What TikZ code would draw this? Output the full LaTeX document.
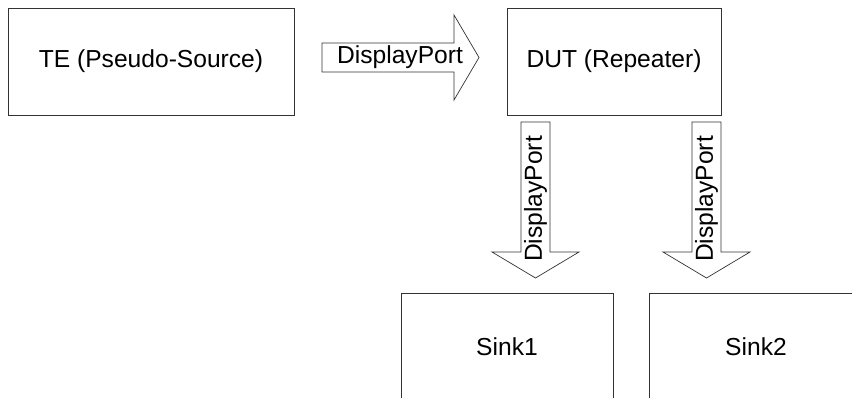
\documentclass[tikz,border=0pt]{standalone}
\usepackage{fontspec}
\setmainfont{Liberation Sans}
\usetikzlibrary{positioning}

\begin{document}
\begin{tikzpicture}[
  x=1pt, y=-1pt,
  font=\fontsize{24.6}{28}\selectfont,
  box/.style={draw=black!80, line width=0.7pt, align=center, minimum height=107pt},
  fatarrow/.style={draw=black!80, line width=0.7pt, fill=white, line join=miter},
  arrowtext/.style={inner sep=0pt}
]

\clip (0,0) rectangle (852,398);

\node[box, minimum width=286pt] (te)  at (151,61.5)  {TE (Pseudo-Source)};
\node[box, minimum width=214pt] (dut) at (614,61.5)  {DUT (Repeater)};

% sinks below the repeater
\node[box, minimum width=212pt] (sink1) at (507,346.5) {Sink1};
\node[box, minimum width=214pt] (sink2) at (756,346.5) {Sink2};

% TE -> DUT
\draw[fatarrow] (322,43) -- (454,43) -- (454,15) -- (479,57.5)
  -- (454,100) -- (454,72) -- (322,72) -- cycle;
\node[arrowtext] (dp0) at (400,57.5) {DisplayPort};

% DUT -> Sink1, DUT -> Sink2
\draw[fatarrow] (521,122) -- (550,122) -- (550,252) -- (579,252)
  -- (535.5,278) -- (492,252) -- (521,252) -- cycle;
\node[arrowtext, rotate=90] (dp1) at (535.5,199) {DisplayPort};

\draw[fatarrow] (692,122) -- (721,122) -- (721,252) -- (750,252)
  -- (706.5,278) -- (663,252) -- (692,252) -- cycle;
\node[arrowtext, rotate=90] (dp2) at (706.5,199) {DisplayPort};

\end{tikzpicture}
\end{document}
